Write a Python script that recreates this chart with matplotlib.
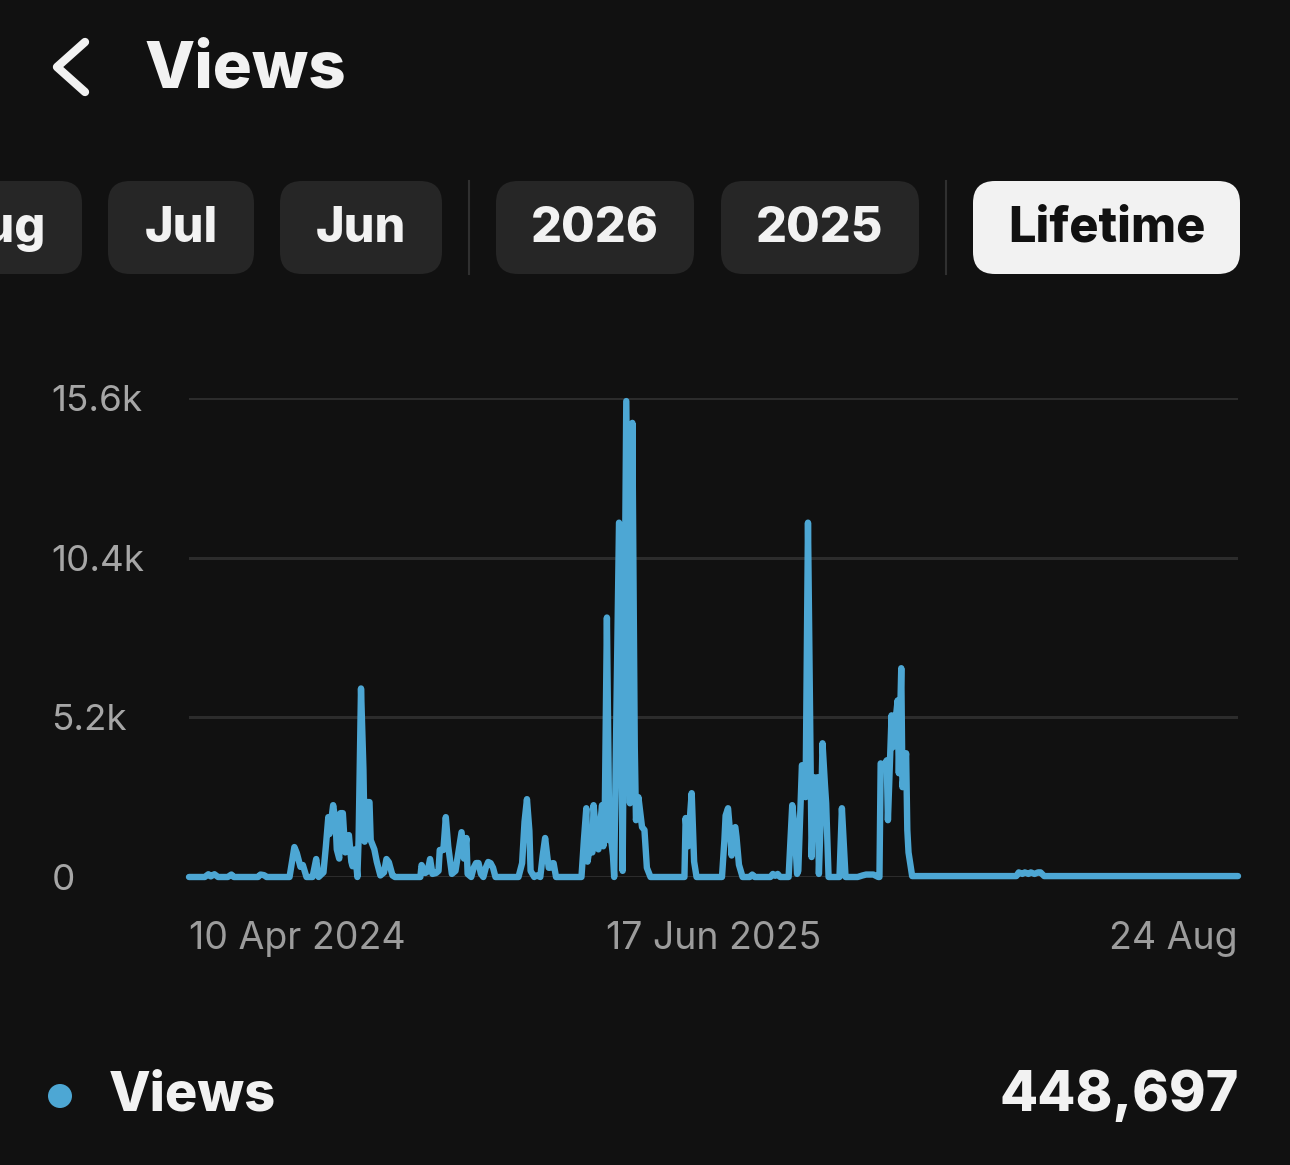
import numpy as np
import pandas as pd
import matplotlib
matplotlib.use('Agg')
import matplotlib.pyplot as plt
from matplotlib.patches import FancyBboxPatch, Circle
from matplotlib.lines import Line2D

plt.rcParams['font.family'] = ['Inter', 'DejaVu Sans']

# Data (days since 10 Apr 2024, daily views)
start_date = '2024-04-10'
end_date = '2026-08-24'

day_offset = [0, 13, 16, 18, 21, 24, 32, 35, 37, 57, 59, 62, 64,
              83, 87, 89, 92, 94, 97, 102, 105, 107,
              111, 113, 115, 116, 119, 121, 122, 124, 125, 127, 129, 130, 132, 134, 135, 137, 139,
              140, 142, 144, 145, 147, 149, 150, 153, 155, 158, 161, 163, 165, 168, 170,
              191, 192, 195, 197, 199, 201, 204, 206, 207, 210, 212, 214, 215, 217, 220, 222,
              224, 225, 227, 229, 230, 233, 235, 237, 239, 241, 243, 245, 247, 249, 251, 253,
              272, 275, 277, 279, 281, 282, 285, 287, 290, 292, 294, 296, 297, 298, 300, 301, 303,
              324, 326, 328, 329, 331, 333, 334, 336, 338, 339, 341, 342, 343, 345, 347, 348, 350, 351,
              355, 358, 361, 364, 366, 368, 369, 371, 374, 376, 378, 381,
              409, 410, 412, 414, 415, 417, 419,
              440, 442, 443, 445, 447, 448, 449, 451, 452, 454, 457,
              463, 465, 467, 480, 482, 484, 486, 488,
              495, 498, 500, 502, 503, 506, 508, 509, 511, 514, 516, 518, 519, 520, 522, 523, 525, 526, 528,
              537, 539, 542, 552, 556, 559, 562, 565, 569,
              570, 571, 574, 576, 577, 580, 581, 585, 586, 588, 589, 592, 593, 594, 597,
              683, 685, 688, 690, 693, 695, 698, 701, 703, 706, 866]

views = [0, 0, 90, 20, 90, 0, 0, 80, 0, 0, 80, 60, 0,
         0, 975, 780, 330, 390, 0, 0, 585, 0,
         150, 1000, 1950, 1400, 2340, 1800, 900, 600, 2080, 2080, 800, 1050, 1365, 500, 350, 900, 0,
         1200, 6140, 3500, 1150, 2440, 2440, 1200, 900, 500, 50, 150, 585, 480, 50, 0,
         0, 390, 130, 180, 585, 100, 130, 200, 880, 880, 1950, 1000, 700, 100, 200, 700,
         1200, 1460, 600, 1270, 100, 0, 300, 455, 455, 100, 0, 300, 490, 450, 300, 0,
         0, 450, 1800, 2535, 1500, 200, 0, 50, 0, 700, 1270, 600, 300, 300, 450, 450, 0,
         0, 1200, 2240, 500, 1000, 800, 2340, 1400, 900, 1500, 2340, 1000, 1200, 8450, 1200, 1400, 700, 0,
         11540, 200, 15500, 2400, 14790, 4225, 1850, 2600, 1625, 1530, 300, 0,
         0, 1920, 1000, 2200, 2730, 500, 0,
         0, 1200, 2000, 2240, 1300, 700, 1500, 1625, 1300, 400, 0,
         0, 80, 0, 0, 100, 40, 100, 0,
         0, 2340, 1600, 100, 200, 3640, 3400, 2600, 11540, 650, 3250, 3000, 3250, 100, 2500, 4355, 3000, 2400, 0,
         0, 2240, 0, 0, 50, 80, 80, 80, 0,
         0, 3700, 3640, 3800, 1850, 5265, 4225, 5750, 3380, 6800, 2925, 4030, 1530, 800, 30,
         30, 150, 100, 150, 100, 150, 100, 150, 150, 30, 30]

y_ticks = [0, 5200, 10400, 15600]
y_labels = ['0', '5.2k', '10.4k', '15.6k']
x_tick_dates = ['2024-04-10', '2025-06-17', '2026-08-24']
x_tick_labels = ['10 Apr 2024', '17 Jun 2025', '24 Aug']
periods = ['Aug', 'Jul', 'Jun', '2026', '2025', 'Lifetime']
total_views = '448,697'

BG = '#111111'
BLUE = '#4DA7D4'
W, H = 1290, 1165

dates = pd.Timestamp(start_date) + pd.to_timedelta(day_offset, unit='D')

fig = plt.figure(figsize=(W / 100, H / 100), dpi=100)
fig.patch.set_facecolor(BG)

# UI layer in pixel units
ui = fig.add_axes([0, 0, 1, 1])
ui.set_xlim(0, W)
ui.set_ylim(H, 0)
ui.axis('off')

# back chevron + title
ui.add_line(Line2D([85, 57, 85], [42, 67, 92], color='#f2f2f2', lw=6,
                   solid_capstyle='round', solid_joinstyle='round'))
ui.text(145, 70, 'Views', color='#f2f2f2', fontsize=47, fontweight='heavy',
        ha='left', va='center')

# period buttons
btn_x = [(-70, 82), (108, 254), (280, 442), (496, 694), (721, 919), (973, 1240)]
for lab, (x0, x1) in zip(periods, btn_x):
    active = lab == 'Lifetime'
    ui.add_patch(FancyBboxPatch((x0, 181), x1 - x0, 93,
                                boxstyle='round,pad=0,rounding_size=22',
                                fc='#f2f2f2' if active else '#262626', ec='none'))
    tx = (x0 + x1) / 2 if lab != 'Aug' else x1 - 36
    ui.text(tx, 229, lab, color='#111111' if active else '#f2f2f2',
            fontsize=35, fontweight='heavy',
            ha='center' if lab != 'Aug' else 'right', va='center')
for sx in [469, 946]:
    ui.add_line(Line2D([sx, sx], [181, 274], color='#303030', lw=1.5))

# legend row
ui.add_patch(Circle((60, 1096), 12, fc=BLUE, ec='none'))
ui.text(109, 1096, 'Views', color='#f2f2f2', fontsize=39, fontweight='heavy',
        ha='left', va='center')
ui.text(1239, 1096, total_views, color='#f2f2f2', fontsize=40, fontweight='heavy',
        ha='right', va='center')

# chart
ax = fig.add_axes([189 / W, 1 - 877 / H, 1049 / W, 479 / H])
ax.set_facecolor('none')
for yv in y_ticks:
    ax.axhline(yv, color='#2c2c2c', lw=2.2, zorder=1)
ax.plot(dates, views, color=BLUE, lw=4.6, zorder=3, clip_on=False,
        solid_joinstyle='round', solid_capstyle='round')

ax.set_xlim(pd.Timestamp(start_date), pd.Timestamp(end_date))
ax.set_ylim(0, 15600)
for s in ax.spines.values():
    s.set_visible(False)

ax.set_yticks(y_ticks)
ax.set_yticklabels(y_labels)
ax.tick_params(axis='y', length=0, pad=99, labelsize=26.5, labelcolor='#a6a6a6')
for t in ax.get_yticklabels():
    t.set_horizontalalignment('left')

ax.set_xticks(pd.to_datetime(x_tick_dates))
ax.set_xticklabels(x_tick_labels)
ax.tick_params(axis='x', length=0, pad=32, labelsize=27, labelcolor='#9c9c9c')
for t, ha in zip(ax.get_xticklabels(), ['left', 'center', 'right']):
    t.set_horizontalalignment(ha)

fig.savefig('out.png', dpi=100, facecolor=BG)
